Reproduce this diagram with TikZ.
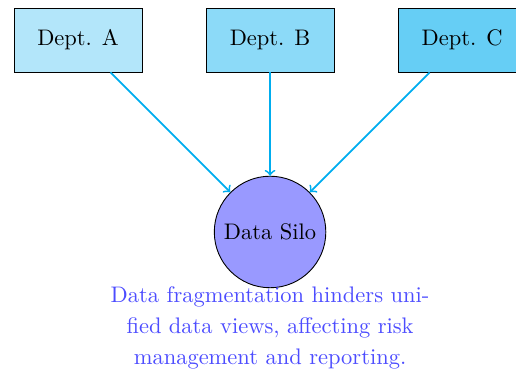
\documentclass[tikz,border=0pt]{standalone}
\tikzset{
  dept/.style={draw, rectangle, minimum width=2cm, minimum height=1cm},
  flow/.style={->, cyan, thick},
  silo/.style={draw, circle, fill=blue!40},
  note/.style={text=blue!70, align=center, font=\linespread{1.15}\selectfont}
}
\begin{document}
\begin{tikzpicture}
  \useasboundingbox (-4.22,0.625) rectangle (3.843,-5.1875);
  \node[dept, fill=cyan!30] (a) at (-3,0) {Dept. A};
  \node[dept, fill=cyan!45] (b) at (0,0) {Dept. B};
  \node[dept, fill=cyan!60] (c) at (3,0) {Dept. C};
  \node[silo] (s) at (0,-3) {Data Silo};
  \node[note] (n) at (0,-4.5) {Data fragmentation hinders uni-\\fied data views, affecting risk\\management and reporting.};
  \draw[flow] (a) -- (s);
  \draw[flow] (b) -- (s);
  \draw[flow] (c) -- (s);
\end{tikzpicture}
\end{document}
